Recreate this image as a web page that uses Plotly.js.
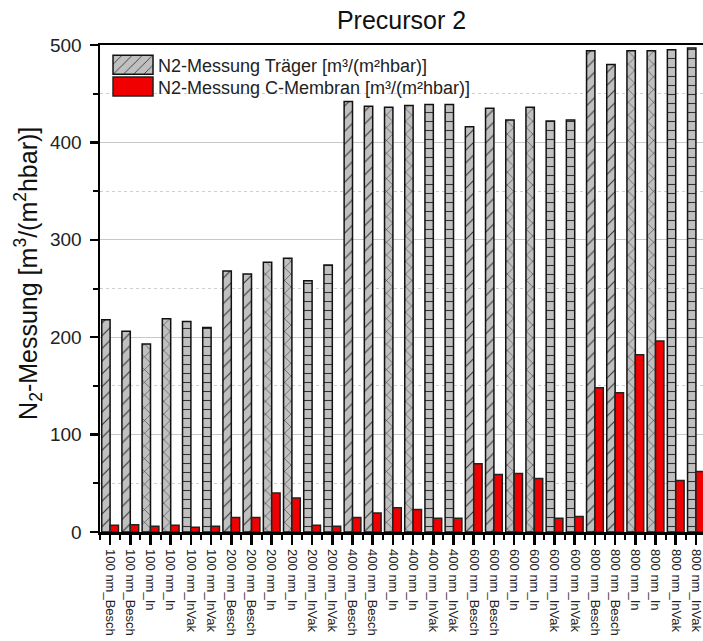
<!DOCTYPE html>
<html>
<head>
<meta charset="utf-8">
<script src="https://cdn.plot.ly/plotly-3.0.1.min.js"></script>
<style>
  html, body { margin: 0; padding: 0; background: #fff; overflow: hidden; }
  #chart { width: 703px; height: 641px; }
</style>
</head>
<body>
<div id="chart"></div>
<script>
// Sample labels (thickness + treatment), two measurements each
const categories = [
  "100 nm_Besch", "100 nm_Besch", "100 nm_In", "100 nm_In", "100 nm_InVak", "100 nm_InVak",
  "200 nm_Besch", "200 nm_Besch", "200 nm_In", "200 nm_In", "200 nm_InVak", "200 nm_InVak",
  "400 nm_Besch", "400 nm_Besch", "400 nm_In", "400 nm_In", "400 nm_InVak", "400 nm_InVak",
  "600 nm_Besch", "600 nm_Besch", "600 nm_In", "600 nm_In", "600 nm_InVak", "600 nm_InVak",
  "800 nm_Besch", "800 nm_Besch", "800 nm_In", "800 nm_In", "800 nm_InVak", "800 nm_InVak"
];

// N2 permeance of the support [m³/(m²hbar)]
const traeger = [
  218, 206, 193, 219, 216, 210,
  268, 265, 277, 281, 258, 274,
  442, 437, 436, 438, 439, 439,
  416, 435, 423, 436, 422, 423,
  494, 480, 494, 494, 495, 497
];

// N2 permeance of the carbon membrane [m³/(m²hbar)]
const cMembran = [
  7, 7.5, 6, 7, 5, 6,
  15, 15, 40, 35, 7, 6,
  15, 19.5, 25, 23, 14, 14,
  70, 59, 60, 55, 14, 16,
  148, 143, 182, 196, 53, 62
];

const seriesNames = [
  "N2-Messung Träger [m³/(m²hbar)]",
  "N2-Messung C-Membran [m³/(m²hbar)]"
];

// Hatch style per treatment: coated, infiltrated, infiltrated under vacuum
const hatchByTreatment = { "Besch": "/", "In": "x", "InVak": "-" };

const xIdx = categories.map((_, i) => i);
const hatch = categories.map(c => hatchByTreatment[c.split("_")[1]]);

const FONT = "Arial, 'Liberation Sans', sans-serif";

const traces = [
  {
    type: "bar",
    name: seriesNames[0],
    legend: "legend",
    x: xIdx,
    y: traeger,
    marker: {
      color: "#c0c0c0",
      line: { color: "#111", width: 1.5 },
      pattern: {
        shape: hatch,
        fillmode: "overlay",
        bgcolor: "#c0c0c0",
        fgcolor: "#333",
        fgopacity: 1,
        size: 9,
        solidity: 0.12
      }
    },
    hoverinfo: "skip"
  },
  {
    type: "bar",
    name: seriesNames[1],
    legend: "legend2",
    x: xIdx,
    y: cMembran,
    marker: {
      color: "#f00000",
      line: { color: "#222", width: 1.5 }
    },
    hoverinfo: "skip"
  }
];

// one legend box per series so the two rows sit close together
const legendStyle = {
  x: 0.0133,
  xanchor: "left",
  yanchor: "middle",
  bgcolor: "rgba(0,0,0,0)",
  font: { family: FONT, size: 18, color: "#222" },
  itemwidth: 40
};

const layout = {
  width: 703,
  height: 641,
  margin: { l: 100, r: 0, t: 45, b: 109 },
  paper_bgcolor: "#fff",
  plot_bgcolor: "#fff",
  font: { family: FONT, color: "#222" },
  barmode: "group",
  bargap: 0.17,
  bargroupgap: 0,
  showlegend: true,
  title: {
    text: "Precursor 2",
    font: { family: FONT, size: 25, color: "#111" },
    xref: "paper",
    x: 0.5,
    xanchor: "center",
    yref: "container",
    y: 1 - 20 / 641,
    yanchor: "middle"
  },
  legend: Object.assign({}, legendStyle, { y: 0.959 }),
  legend2: Object.assign({}, legendStyle, { y: 0.914 }),
  xaxis: {
    range: [-0.5, 29.35],
    tickmode: "array",
    tickvals: xIdx,
    ticktext: categories,
    tickangle: 90,
    ticklabeloverflow: "allow",
    ticklabelstandoff: 2,
    tickfont: { family: FONT, size: 13, color: "#222" },
    ticks: "outside",
    ticklen: 10,
    tickwidth: 2.5,
    tickcolor: "#000",
    showline: true,
    linewidth: 2.5,
    linecolor: "#000",
    mirror: true,
    showgrid: false,
    zeroline: false,
    minor: {
      ticks: "outside",
      tickmode: "linear",
      tick0: 0.5,
      dtick: 1,
      ticklen: 5,
      tickwidth: 2,
      tickcolor: "#000",
      showgrid: false
    }
  },
  yaxis: {
    range: [0, 500],
    tickmode: "linear",
    tick0: 0,
    dtick: 100,
    tickfont: { family: FONT, size: 19, color: "#222" },
    ticklabelstandoff: 4,
    ticks: "outside",
    ticklen: 8,
    tickwidth: 2.5,
    tickcolor: "#000",
    showline: true,
    linewidth: 2.5,
    linecolor: "#000",
    showgrid: true,
    gridcolor: "#c8c8c8",
    gridwidth: 1,
    zeroline: false,
    minor: {
      ticks: "outside",
      tickmode: "linear",
      tick0: 50,
      dtick: 100,
      ticklen: 5,
      tickwidth: 2,
      tickcolor: "#000",
      showgrid: true,
      gridcolor: "#cfcfcf",
      gridwidth: 1,
      griddash: "dot"
    }
  },
  annotations: [
    {
      // y-axis title, placed as a rotated annotation
      text: "N<sub>2</sub>-Messung [m<sup>3</sup>/(m<sup>2</sup>hbar)]",
      font: { family: FONT, size: 25, color: "#111" },
      textangle: -90,
      xref: "paper",
      yref: "paper",
      x: -72 / 603,
      y: 0.53,
      xanchor: "center",
      yanchor: "middle",
      showarrow: false
    }
  ]
};

Plotly.newPlot("chart", traces, layout, { displayModeBar: false, staticPlot: true }).then(gd => {
  // wider legend swatches
  gd.querySelectorAll(".legendpoints path").forEach(p => {
    p.setAttribute("d", "M20,9.5H-20V-9.5H20Z");
  });
});
</script>
</body>
</html>
